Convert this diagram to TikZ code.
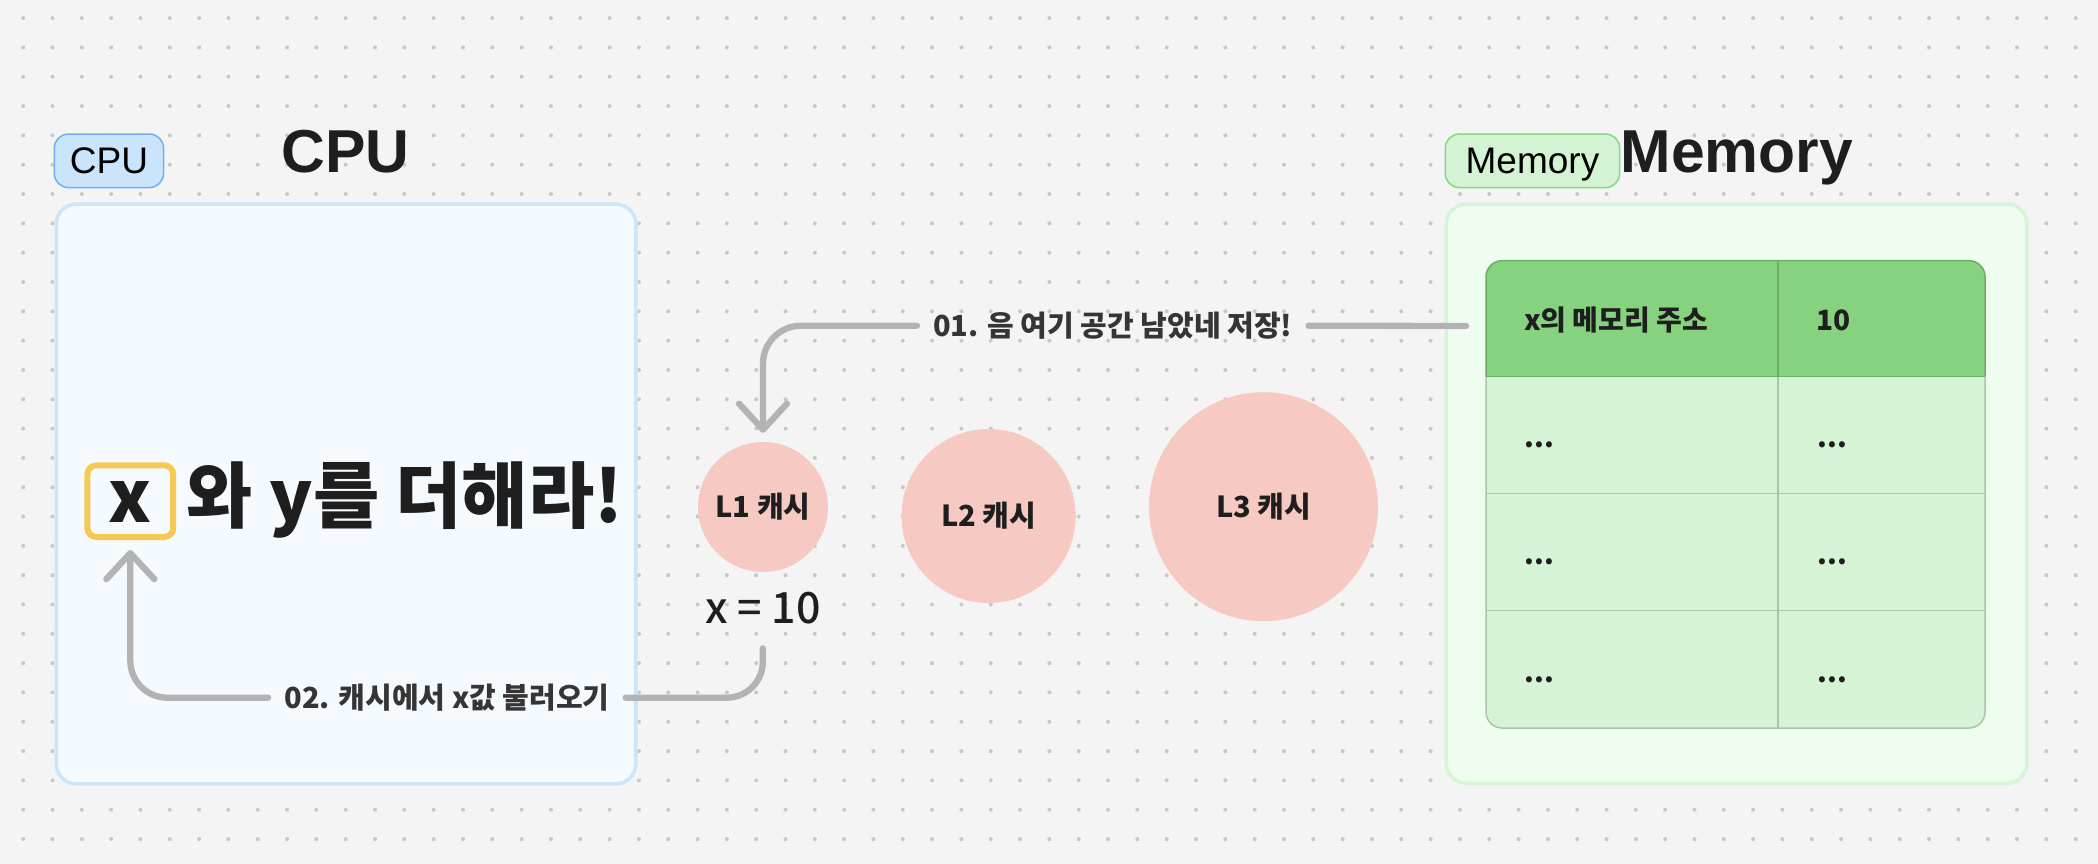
\documentclass[tikz,border=0pt]{standalone}
\usepackage{fontspec}
\setmainfont{Liberation Sans}
\newfontfamily\kr{Noto Sans CJK KR}
\newfontfamily\krblack{Noto Sans CJK KR Black}
\newfontfamily\krmed{Noto Sans CJK KR Medium}
\usetikzlibrary{arrows.meta}
\definecolor{bg}{HTML}{F4F4F4}
\definecolor{dotc}{HTML}{C8C8C8}
\definecolor{ink}{HTML}{1E1E1E}
\definecolor{cpufill}{HTML}{F5FAFF}
\definecolor{cpuline}{HTML}{CBE5FB}
\definecolor{cputagfill}{HTML}{C9E4FB}
\definecolor{cputagline}{HTML}{6EB1F2}
\definecolor{yel}{HTML}{F6C955}
\definecolor{cache}{HTML}{F6C9C2}
\definecolor{agray}{HTML}{B3B3B3}
\definecolor{memfill}{HTML}{EFFDF0}
\definecolor{memline}{HTML}{D6F5D6}
\definecolor{memtagfill}{HTML}{D4F3D4}
\definecolor{memtagline}{HTML}{86D882}
\definecolor{hdrfill}{HTML}{86D27F}
\definecolor{hdrline}{HTML}{6AAF64}
\definecolor{rowfill}{HTML}{D5F4D5}
\definecolor{rowline}{HTML}{A9C6A8}
\begin{document}
\begin{tikzpicture}[x=1pt,y=-1pt,
  conn/.style={draw=agray, line width=6.3pt, line cap=round, line join=round},
  withtip/.style={-{Straight Barb[length=26pt,width=48pt,round]}},
  tagbox/.style={rounded corners=14pt, line width=1.5pt, inner sep=0pt, minimum height=53.5pt, text depth=0pt, font=\fontsize{37}{44}\selectfont, text=black},
  bigbox/.style={rounded corners=20pt, line width=3.5pt, inner sep=0pt},
  title/.style={anchor=base, inner sep=0pt, text=ink, font=\bfseries\fontsize{60.6}{72}\selectfont},
  cachenode/.style={circle, fill=cache, inner sep=0pt, text=ink, font=\kr\bfseries\fontsize{29}{34}\selectfont},
  krb/.style={inner sep=0pt, text=ink, font=\kr\bfseries\fontsize{28}{34}\selectfont},
  arrlabel/.style={inner xsep=16pt, inner ysep=0pt, text=ink!90, font=\kr\bfseries\fontsize{29}{34}\selectfont},
]
\useasboundingbox (0,0) rectangle (2098,864);
\fill[bg] (0,0) rectangle (2098,864);
\foreach \i in {0,...,71}{
  \foreach \j in {0,...,29}{
    \fill[dotc] ({23.2+29.32*\i},{18.1+29.32*\j}) circle[radius=2pt];
  }
}

% CPU
\node[tagbox, draw=cputagline, fill=cputagfill, minimum width=109.2pt] (cputag) at (108.95,160.8) {CPU};
\node[title] (cputitle) at (345.5,172.7) {CPU};
\node[bigbox, draw=cpuline, fill=cpufill, minimum width=579.5pt, minimum height=579.9pt] (cpu) at (346,494) {};
\node[draw=yel, fill=cpufill, line width=6pt, rounded corners=9pt, minimum width=85.8pt, minimum height=71.7pt, inner sep=0pt] (xbox) at (130.3,501.15) {};
\node[anchor=base, inner sep=0pt, text=ink, font=\krblack\fontsize{72}{80}\selectfont] (xtxt) at (130.5,522.5) {x};
\node[anchor=base west, inner sep=0pt, text=ink, font=\krblack\fontsize{72}{80}\selectfont] (cmd) at (186.6,522.5) {와 y를 더해라!};

% caches
\node[cachenode, minimum size=130pt] (L1) at (763,507) {L1 캐시};
\node[cachenode, minimum size=174pt] (L2) at (988.6,516) {L2 캐시};
\node[cachenode, minimum size=229pt] (L3) at (1263.5,506.7) {L3 캐시};
\node[anchor=base, inner sep=0pt, text=ink, font=\krmed\fontsize{43}{50}\selectfont] (x10) at (762.8,623.3) {x = 10};

% Memory
\node[tagbox, draw=memtagline, fill=memtagfill, minimum width=174.4pt] (memtag) at (1532.45,160.8) {Memory};
\node[title] (memtitle) at (1736.7,172.7) {Memory};
\node[bigbox, draw=memline, fill=memfill, minimum width=580.6pt, minimum height=579.2pt] (mem) at (1736.55,493.65) {};

\begin{scope}
  \clip[rounded corners=16pt] (1486,260.7) rectangle (1985,728);
  \fill[rowfill] (1486,260.7) rectangle (1985,728);
  \fill[hdrfill] (1486,260.7) rectangle (1985,376.3);
\end{scope}
\draw[rowline, line width=1.5pt, rounded corners=16pt] (1486,376.3) -- (1486,728) -- (1985,728) -- (1985,376.3);
\draw[rowline, line width=1.5pt] (1486,493.7) -- (1985,493.7) (1486,610.7) -- (1985,610.7) (1778,376.3) -- (1778,728);
\draw[hdrline, line width=1.5pt, rounded corners=16pt] (1486,376.3) -- (1486,260.7) -- (1985,260.7) -- (1985,376.3);
\draw[hdrline, line width=1.5pt] (1486,376.3) -- (1985,376.3) (1778,260.7) -- (1778,376.3);

\node[krb, anchor=base west] (h1) at (1523.8,330) {x의 메모리 주소};
\node[krb, anchor=base west] (h2) at (1816,330) {10};
\foreach \y/\n in {447.3/1,564.7/2,682/3}{
  \node[krb, anchor=base west] (a\n) at (1524.4,\y) {...};
  \node[krb, anchor=base west] (b\n) at (1817.4,\y) {...};
}

% arrow 01
\coordinate (memout) at (1466,326);
\node[arrlabel] (lbl1) at (1112.7,325.7) {01. 음 여기 공간 남았네 저장!};
\draw[conn] (memout) -- (lbl1.east);
\draw[conn, withtip, rounded corners=38pt] (lbl1.west) -| ([yshift=9pt]L1.north);

% arrow 02
\node[arrlabel] (lbl2) at (446.9,697.7) {02. 캐시에서 x값 불러오기};
\draw[conn, rounded corners=36pt] ([yshift=-25pt]x10.base) |- (lbl2.east);
\draw[conn, withtip, rounded corners=37pt] (lbl2.west) -| ([yshift=-10pt]xbox.south);
\end{tikzpicture}
\end{document}
